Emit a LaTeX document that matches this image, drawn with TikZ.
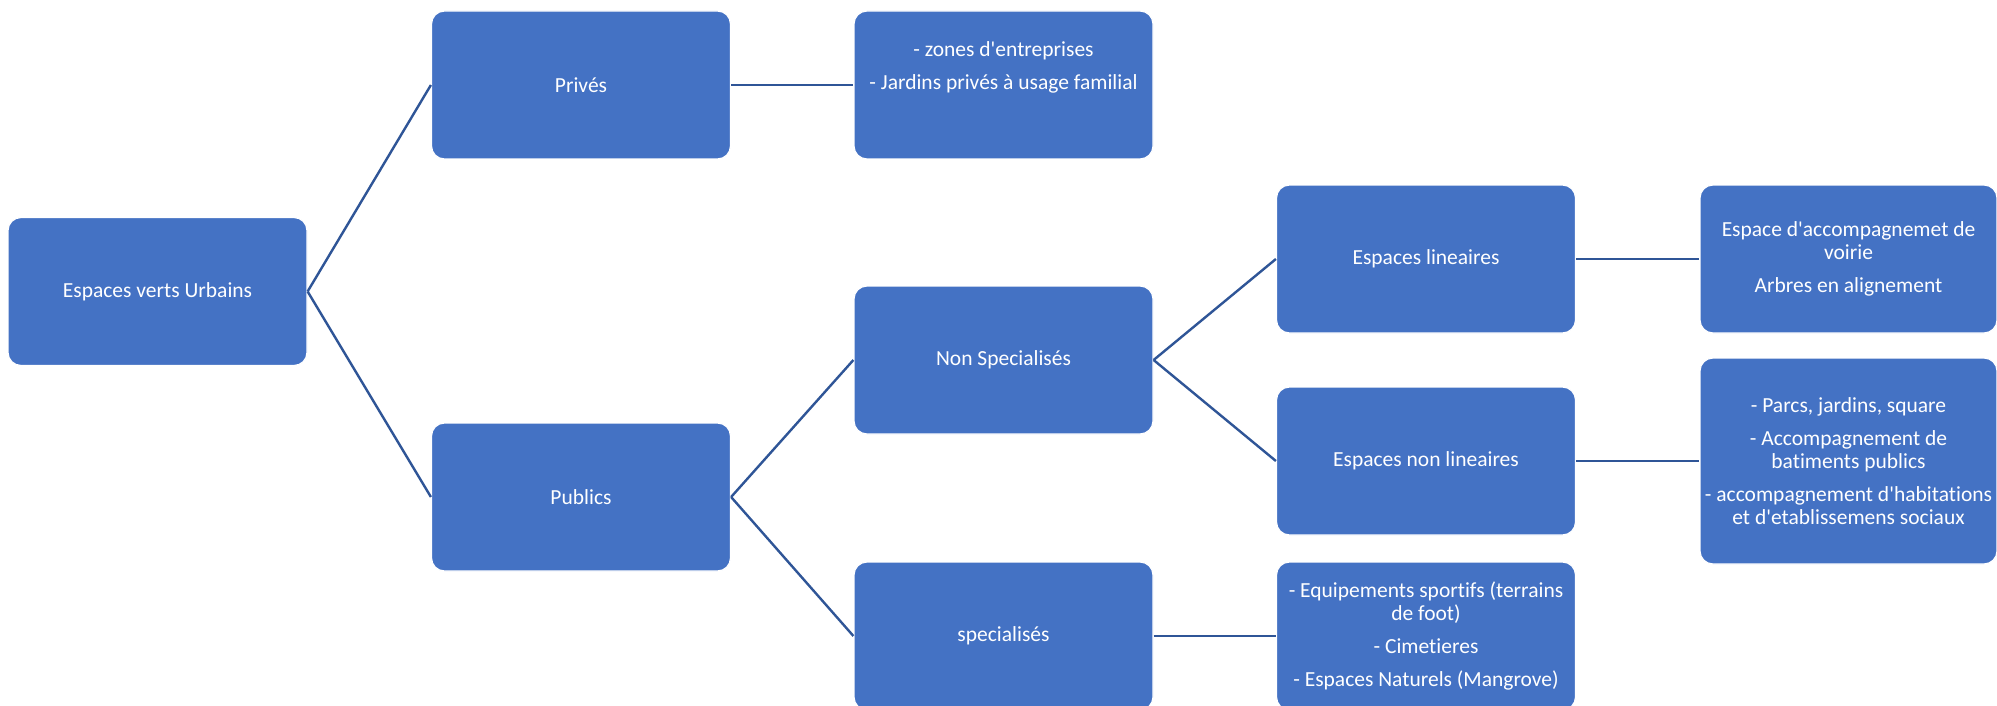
\documentclass[tikz,border=0pt]{standalone}
\usepackage{fontspec}
\setmainfont{Carlito}[Ligatures=NoCommon]
\definecolor{boxblue}{HTML}{4472C4}
\definecolor{linkblue}{HTML}{2F5597}
\newcommand{\ap}{\textquotesingle}
\tikzset{
  box/.style={rectangle, rounded corners=13pt, fill=boxblue, draw=white, line width=1.2pt,
    minimum width=299pt, minimum height=148pt, text=white, align=center, inner sep=4pt,
    font=\fontsize{21.5}{23}\selectfont},
  link/.style={draw=linkblue, line width=2.4pt}
}
\begin{document}
\begin{tikzpicture}[x=1pt,y=-1pt]
\useasboundingbox[fill=white] (0,0) rectangle (1997,706);
\node[box] (root) at (157.5,291.5) {Espaces verts Urbains};
\node[box] (prives) at (581,85) {Privés};
\node[box] (publics) at (581,497) {Publics};
\node[box] (zones) at (1003.5,85) {- zones d\ap entreprises\\[10pt]- Jardins privés à usage familial\\[10pt]\strut};
\node[box] (nonspec) at (1003.5,360) {Non Specialisés};
\node[box] (spec) at (1003.5,636) {specialisés};
\node[box] (lin) at (1426,259) {Espaces lineaires};
\node[box] (nonlin) at (1426,461) {Espaces non lineaires};
\node[box] (equip) at (1426,636) {- Equipements sportifs (terrains\\de foot)\\[10pt]- Cimetieres\\[10pt]- Espaces Naturels (Mangrove)};
\node[box, minimum width=297pt] (acc) at (1848.5,259) {Espace d\ap accompagnemet de\\voirie\\[10pt]Arbres en alignement};
\node[box, minimum width=297pt, minimum height=206pt] (parcs) at (1848.5,461) {- Parcs, jardins, square\\[10pt]- Accompagnement de\\batiments publics\\[10pt]- accompagnement d\ap habitations\\et d\ap etablissemens sociaux};
\draw[link] (root.east) -- (prives.west);
\draw[link] (root.east) -- (publics.west);
\draw[link] (prives.east) -- (zones.west);
\draw[link] (publics.east) -- (nonspec.west);
\draw[link] (publics.east) -- (spec.west);
\draw[link] (nonspec.east) -- (lin.west);
\draw[link] (nonspec.east) -- (nonlin.west);
\draw[link] (spec.east) -- (equip.west);
\draw[link] (lin.east) -- (acc.west);
\draw[link] (nonlin.east) -- (parcs.west);
\end{tikzpicture}
\end{document}
